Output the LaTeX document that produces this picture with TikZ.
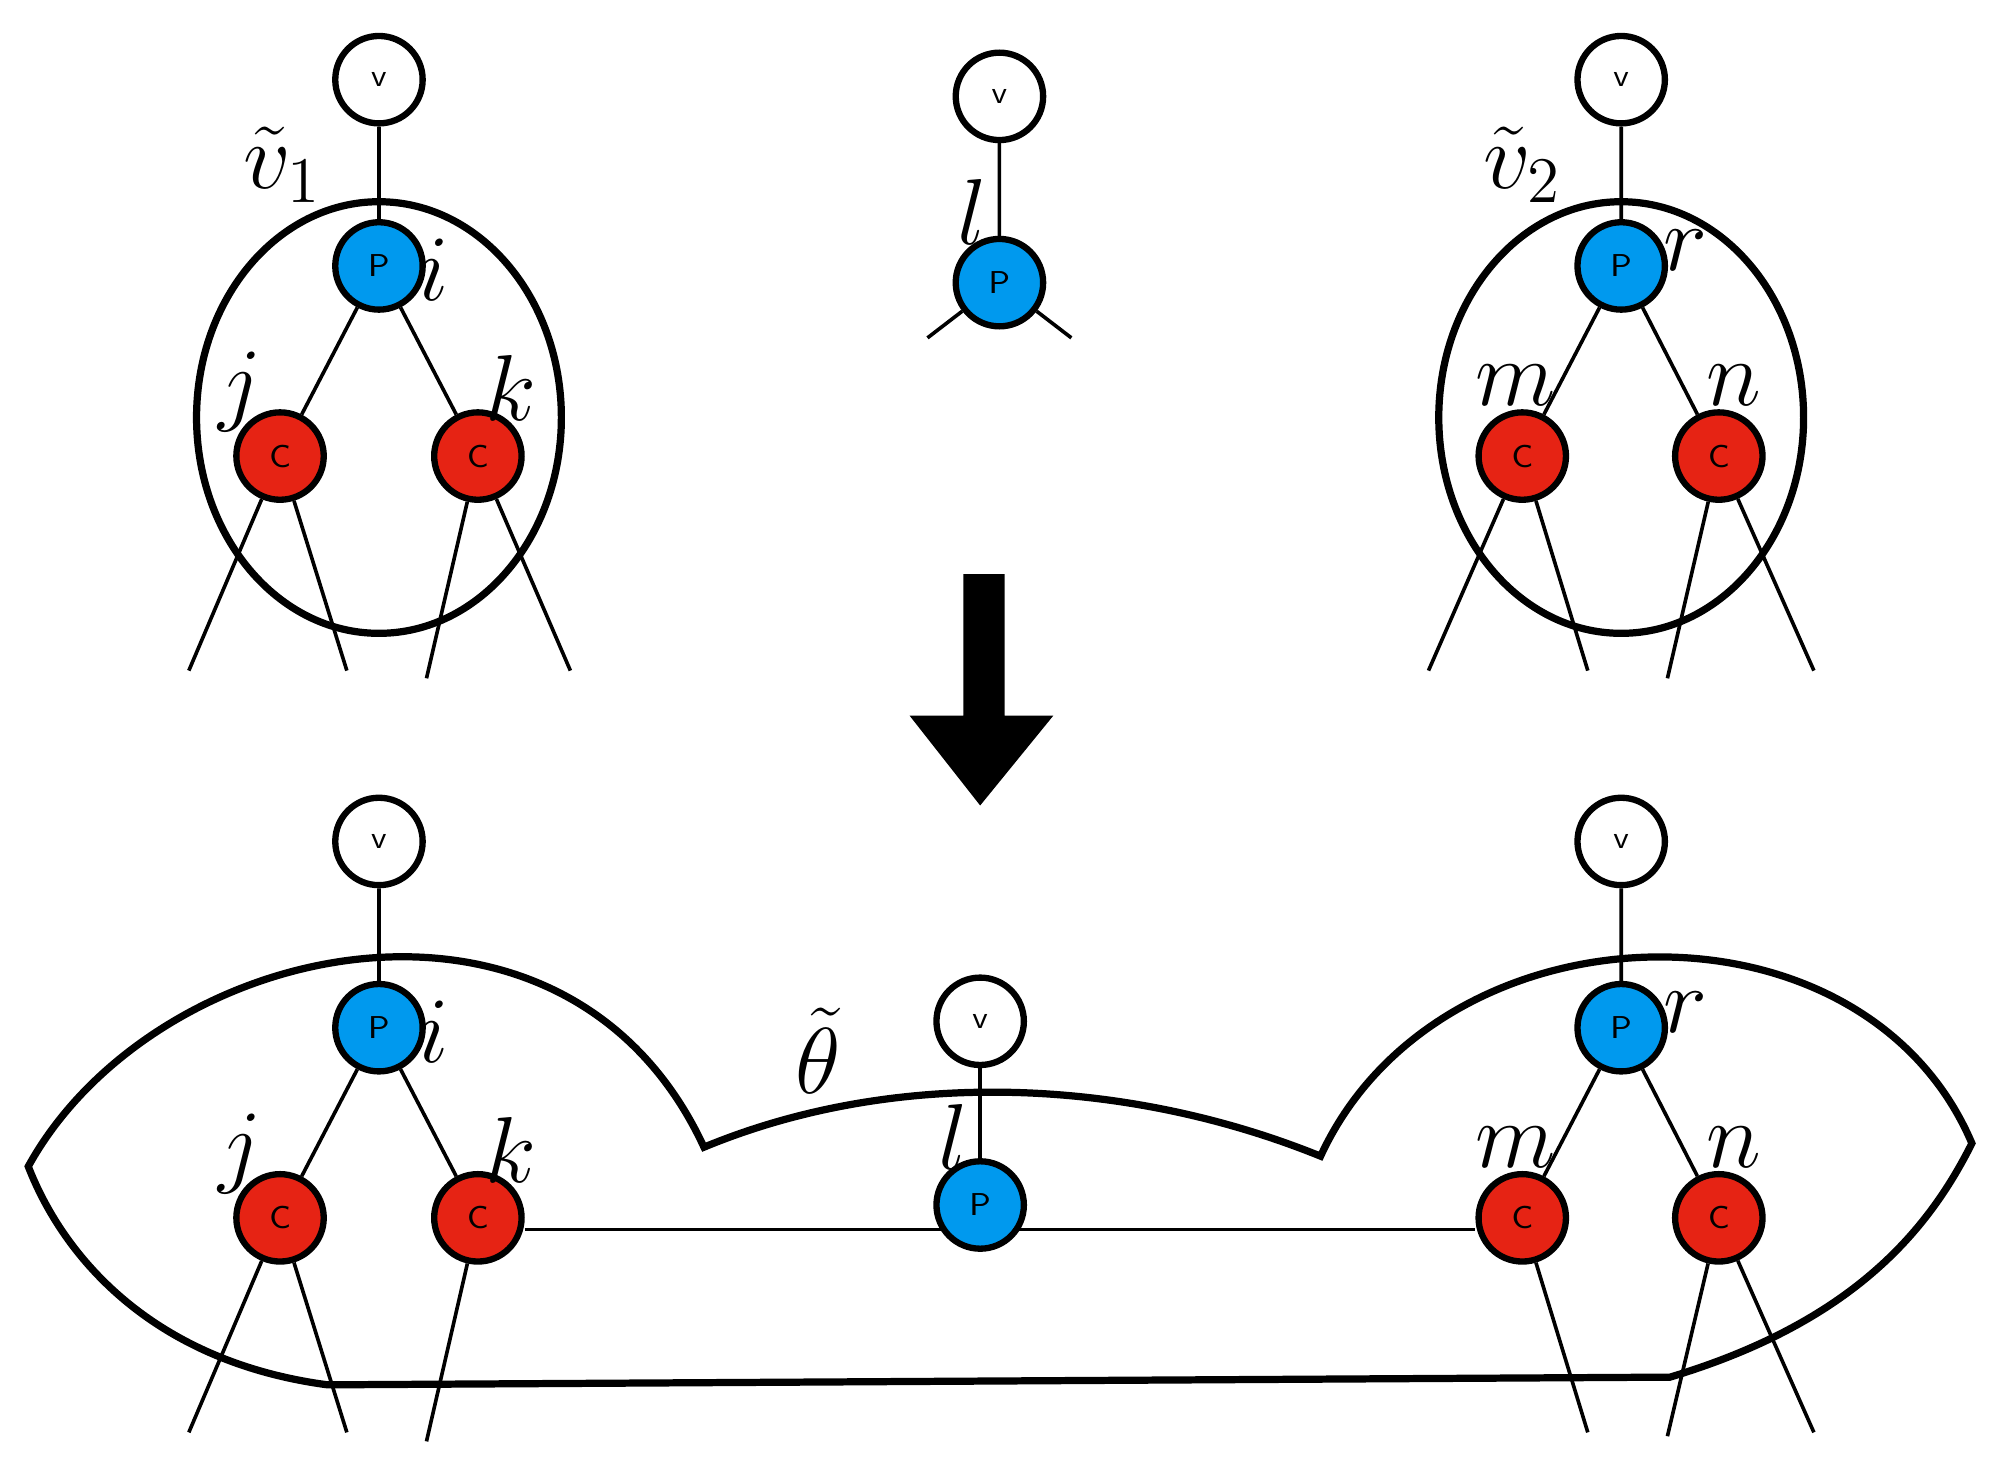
\documentclass[tikz,border=0pt]{standalone}
\usepackage{amsmath}
\begin{document}
\definecolor{pblue}{RGB}{0,153,238}
\definecolor{cred}{RGB}{230,35,20}
\begin{tikzpicture}[x=0.01cm,y=-0.01cm,
	vnode/.style={circle,draw,line width=1.4pt,fill=white,minimum size=0.68cm,inner sep=0pt,font=\sffamily\fontsize{7}{8}\selectfont},
	pnode/.style={vnode,fill=pblue},
	cnode/.style={vnode,fill=cred},
	lab/.style={font=\fontsize{22}{26}\selectfont},
	edge/.style={line width=0.8pt},
	rim/.style={line width=1.6pt}]
	\useasboundingbox (0,0) rectangle (1560,1135);
	% top left
	\draw[rim] (295,325) ellipse (142 and 168);
	\node[vnode] (v1) at (295,62) {v};
	\node[pnode] (p1) at (295,207) {P};
	\node[cnode] (cj) at (218,355) {C};
	\node[cnode] (ck) at (372,355) {C};
	\draw[edge] (v1) -- (p1) (p1) -- (cj) (p1) -- (ck);
	\draw[edge] (cj) -- (147,522) (cj) -- (270,522) (ck) -- (332,528) (ck) -- (444,522);
	\node[lab] at (220,128) {$\tilde v_1$};
	\node[lab] at (337,210) {$i$};
	\node[lab] at (187,305) {$j$};
	\node[lab] at (398,302) {$k$};
	% top middle
	\node[vnode] (v2) at (778,75) {v};
	\node[pnode] (p2) at (778,220) {P};
	\draw[edge] (v2) -- (p2) (p2) -- (722,263) (p2) -- (834,263);
	\node[lab] at (757,165) {$l$};
	% top right
	\draw[rim] (1262,325) ellipse (142 and 168);
	\node[vnode] (v3) at (1262,62) {v};
	\node[pnode] (p3) at (1262,207) {P};
	\node[cnode] (cm) at (1185,355) {C};
	\node[cnode] (cn) at (1338,355) {C};
	\draw[edge] (v3) -- (p3) (p3) -- (cm) (p3) -- (cn);
	\draw[edge] (cm) -- (1112,522) (cm) -- (1236,522) (cn) -- (1298,528) (cn) -- (1412,522);
	\node[lab] at (1185,128) {$\tilde v_2$};
	\node[lab] at (1312,195) {$r$};
	\node[lab] at (1180,300) {$m$};
	\node[lab] at (1350,300) {$n$};
	% arrow
	\fill (750,447) -- (782,447) -- (782,557) -- (820,557) -- (763,627) -- (708,557) -- (750,557) -- cycle;
	% bottom
	\draw[rim] (22,908) .. controls (120,730) and (440,660) .. (548,893)
		.. controls (700,830) and (880,840) .. (1028,900)
		.. controls (1120,700) and (1450,690) .. (1535,890)
		.. controls (1500,960) and (1440,1030) .. (1300,1072)
		-- (255,1078) .. controls (120,1060) and (50,980) .. cycle;
	\node[vnode] (v4) at (295,655) {v};
	\node[pnode] (p4) at (295,800) {P};
	\node[cnode] (bj) at (218,948) {C};
	\node[cnode] (bk) at (372,948) {C};
	\node[vnode] (v5) at (763,795) {v};
	\node[pnode] (p5) at (763,938) {P};
	\node[vnode] (v6) at (1262,655) {v};
	\node[pnode] (p6) at (1262,800) {P};
	\node[cnode] (bm) at (1185,948) {C};
	\node[cnode] (bn) at (1338,948) {C};
	\draw[edge] (v4) -- (p4) (p4) -- (bj) (p4) -- (bk);
	\draw[edge] (v6) -- (p6) (p6) -- (bm) (p6) -- (bn);
	\draw[edge] (v5) -- (p5);
	\draw[edge] (bk.east |- 0,957) -- (p5.south west |- 0,957) (p5.south east |- 0,957) -- (bm.west |- 0,957);
	\draw[edge] (bj) -- (147,1115) (bj) -- (270,1115) (bk) -- (332,1122);
	\draw[edge] (bm) -- (1236,1115) (bn) -- (1298,1118) (bn) -- (1412,1115);
	\node[lab] at (337,803) {$i$};
	\node[lab] at (187,898) {$j$};
	\node[lab] at (398,895) {$k$};
	\node[lab] at (742,885) {$l$};
	\node[lab] at (1312,788) {$r$};
	\node[lab] at (1180,893) {$m$};
	\node[lab] at (1350,893) {$n$};
	\node[lab] at (637,818) {$\tilde\theta$};
\end{tikzpicture}
\end{document}
